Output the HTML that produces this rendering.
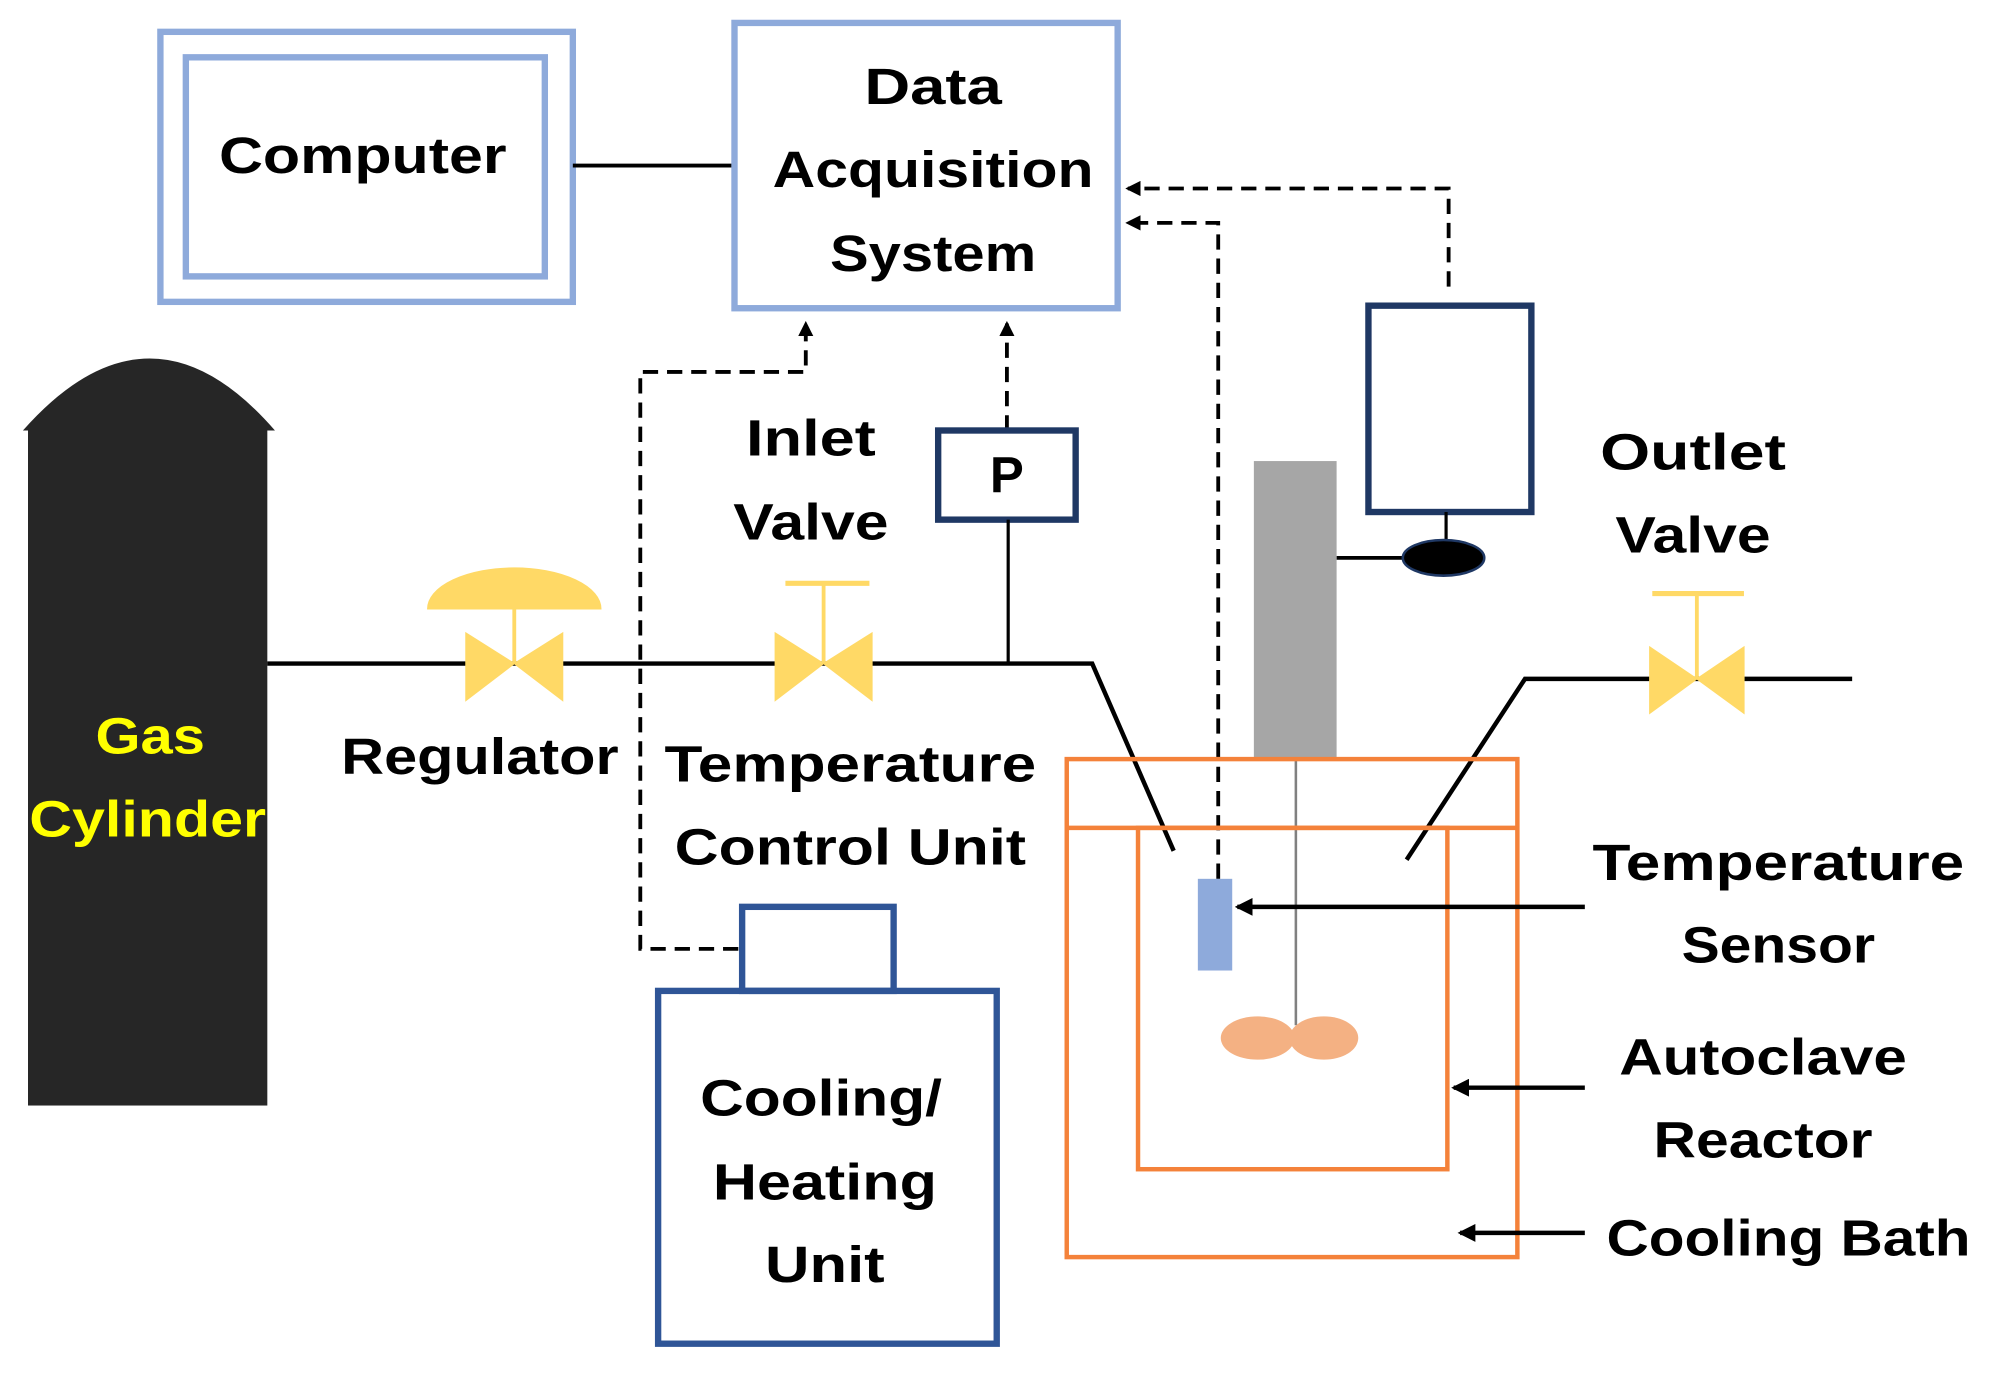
<!DOCTYPE html>
<html><head><meta charset="utf-8"><style>html,body{margin:0;padding:0;background:#fff}svg{display:block}</style></head><body>
<svg width="1996" height="1373" viewBox="0 0 1568 1078" preserveAspectRatio="none" xmlns="http://www.w3.org/2000/svg">
<defs>
<marker id="ah" markerWidth="12" markerHeight="12" refX="10" refY="6" orient="auto" markerUnits="userSpaceOnUse"><path d="M0,0 L12,6 L0,12 z" fill="#000"/></marker>
<marker id="ah2" markerWidth="14" markerHeight="14" refX="12" refY="7" orient="auto" markerUnits="userSpaceOnUse"><path d="M0,0 L14,7 L0,14 z" fill="#000"/></marker>
</defs>
<g font-family="Liberation Sans, sans-serif" font-weight="bold" font-size="40" text-anchor="middle" dominant-baseline="central" fill="#000">
<rect x="126" y="25" width="324" height="212" fill="none" stroke="#8eaadb" stroke-width="5"/>
<rect x="146" y="45" width="282" height="172" fill="none" stroke="#8eaadb" stroke-width="5"/>
<text x="285" y="122" textLength="226" lengthAdjust="spacingAndGlyphs">Computer</text>
<line x1="450" y1="130" x2="577" y2="130" stroke="#000" stroke-width="3"/>
<rect x="577" y="18" width="301" height="224" fill="none" stroke="#8eaadb" stroke-width="5"/>
<text x="733" y="68" textLength="108" lengthAdjust="spacingAndGlyphs">Data</text>
<text x="733" y="133" textLength="252" lengthAdjust="spacingAndGlyphs">Acquisition</text>
<text x="733" y="199" textLength="162" lengthAdjust="spacingAndGlyphs">System</text>
<g fill="none" stroke="#000" stroke-width="3" stroke-dasharray="12,7">
<path d="M1138,225 V148 H886" marker-end="url(#ah)"/>
<path d="M957,690 V175 H886" marker-end="url(#ah)"/>
<path d="M580,745 H503 V292 H633 V254" marker-end="url(#ah)"/>
<path d="M791,338 V254" marker-end="url(#ah)"/>
</g>
<rect x="737" y="338" width="108" height="70" fill="none" stroke="#1f3864" stroke-width="5"/>
<text x="791" y="373">P</text>
<line x1="792" y1="408" x2="792" y2="521" stroke="#000" stroke-width="2.5"/>
<rect x="1075" y="240" width="128" height="162" fill="none" stroke="#1f3864" stroke-width="5"/>
<line x1="1136" y1="402" x2="1136" y2="428" stroke="#000" stroke-width="2.5"/>
<line x1="1050" y1="438" x2="1105" y2="438" stroke="#000" stroke-width="3"/>
<ellipse cx="1134" cy="438" rx="32" ry="14" fill="#000" stroke="#1f3864" stroke-width="2"/>
<rect x="985" y="362" width="65" height="233" fill="#a6a6a6"/>
<line x1="1018" y1="595" x2="1018" y2="805" stroke="#808080" stroke-width="2"/>
<ellipse cx="988" cy="815" rx="29" ry="17" fill="#f4b183"/>
<ellipse cx="1040" cy="815" rx="27" ry="17" fill="#f4b183"/>
<path d="M18,338 Q118,225 216,338 Z" fill="#262626"/>
<rect x="22" y="336" width="188" height="532" fill="#262626"/>
<text x="118" y="578" fill="#ffff00" textLength="86" lengthAdjust="spacingAndGlyphs">Gas</text>
<text x="116" y="643" fill="#ffff00" textLength="186" lengthAdjust="spacingAndGlyphs">Cylinder</text>
<path d="M210,521 H858 L922,668" fill="none" stroke="#000" stroke-width="3.5"/>
<path d="M1455,533 H1198 L1105,675" fill="none" stroke="#000" stroke-width="3.5"/>
<g fill="#ffd966" stroke="#ffd966">
<path d="M366,497 L404,521 L366,550 Z M442,497 L404,521 L442,550 Z"/>
<line x1="404" y1="478" x2="404" y2="521" stroke-width="3"/>
<path d="M336,478 A68,32 0 0 1 472,478 Z"/>
<path d="M609,497 L647,521 L609,550 Z M685,497 L647,521 L685,550 Z"/>
<line x1="647" y1="458" x2="647" y2="521" stroke-width="3"/>
<line x1="617" y1="458" x2="683" y2="458" stroke-width="4"/>
<path d="M1296,508 L1333,533 L1296,560 Z M1370,508 L1333,533 L1370,560 Z"/>
<line x1="1333" y1="466" x2="1333" y2="533" stroke-width="3"/>
<line x1="1298" y1="466" x2="1370" y2="466" stroke-width="4"/>
</g>
<g fill="none" stroke="#f4823a" stroke-width="3.5">
<rect x="838" y="596" width="354" height="391"/>
<line x1="838" y1="650" x2="1192" y2="650"/>
<rect x="894" y="650" width="243" height="268"/>
</g>
<rect x="941" y="690" width="27" height="72" fill="#8eaadb"/>
<g stroke="#000" stroke-width="3.5">
<line x1="1245" y1="712" x2="972" y2="712" marker-end="url(#ah2)"/>
<line x1="1245" y1="854" x2="1142" y2="854" marker-end="url(#ah2)"/>
<line x1="1245" y1="968" x2="1147" y2="968" marker-end="url(#ah2)"/>
</g>
<rect x="583" y="712" width="119" height="66" fill="none" stroke="#2f5597" stroke-width="5"/>
<rect x="517" y="778" width="266" height="277" fill="none" stroke="#2f5597" stroke-width="5"/>
<text x="637" y="344" textLength="102" lengthAdjust="spacingAndGlyphs">Inlet</text>
<text x="637" y="410" textLength="122" lengthAdjust="spacingAndGlyphs">Valve</text>
<text x="1330" y="355" textLength="146" lengthAdjust="spacingAndGlyphs">Outlet</text>
<text x="1330" y="420" textLength="122" lengthAdjust="spacingAndGlyphs">Valve</text>
<text x="377" y="594" textLength="218" lengthAdjust="spacingAndGlyphs">Regulator</text>
<text x="668" y="600" textLength="292" lengthAdjust="spacingAndGlyphs">Temperature</text>
<text x="668" y="665" textLength="276" lengthAdjust="spacingAndGlyphs">Control Unit</text>
<text x="1397" y="677" textLength="292" lengthAdjust="spacingAndGlyphs">Temperature</text>
<text x="1397" y="742" textLength="152" lengthAdjust="spacingAndGlyphs">Sensor</text>
<text x="1385" y="830" textLength="226" lengthAdjust="spacingAndGlyphs">Autoclave</text>
<text x="1385" y="895" textLength="172" lengthAdjust="spacingAndGlyphs">Reactor</text>
<text x="1405" y="972" textLength="286" lengthAdjust="spacingAndGlyphs">Cooling Bath</text>
<text x="645" y="862" textLength="190" lengthAdjust="spacingAndGlyphs">Cooling/</text>
<text x="648" y="928" textLength="176" lengthAdjust="spacingAndGlyphs">Heating</text>
<text x="648" y="993" textLength="94" lengthAdjust="spacingAndGlyphs">Unit</text>
</g>
</svg>
</body></html>
